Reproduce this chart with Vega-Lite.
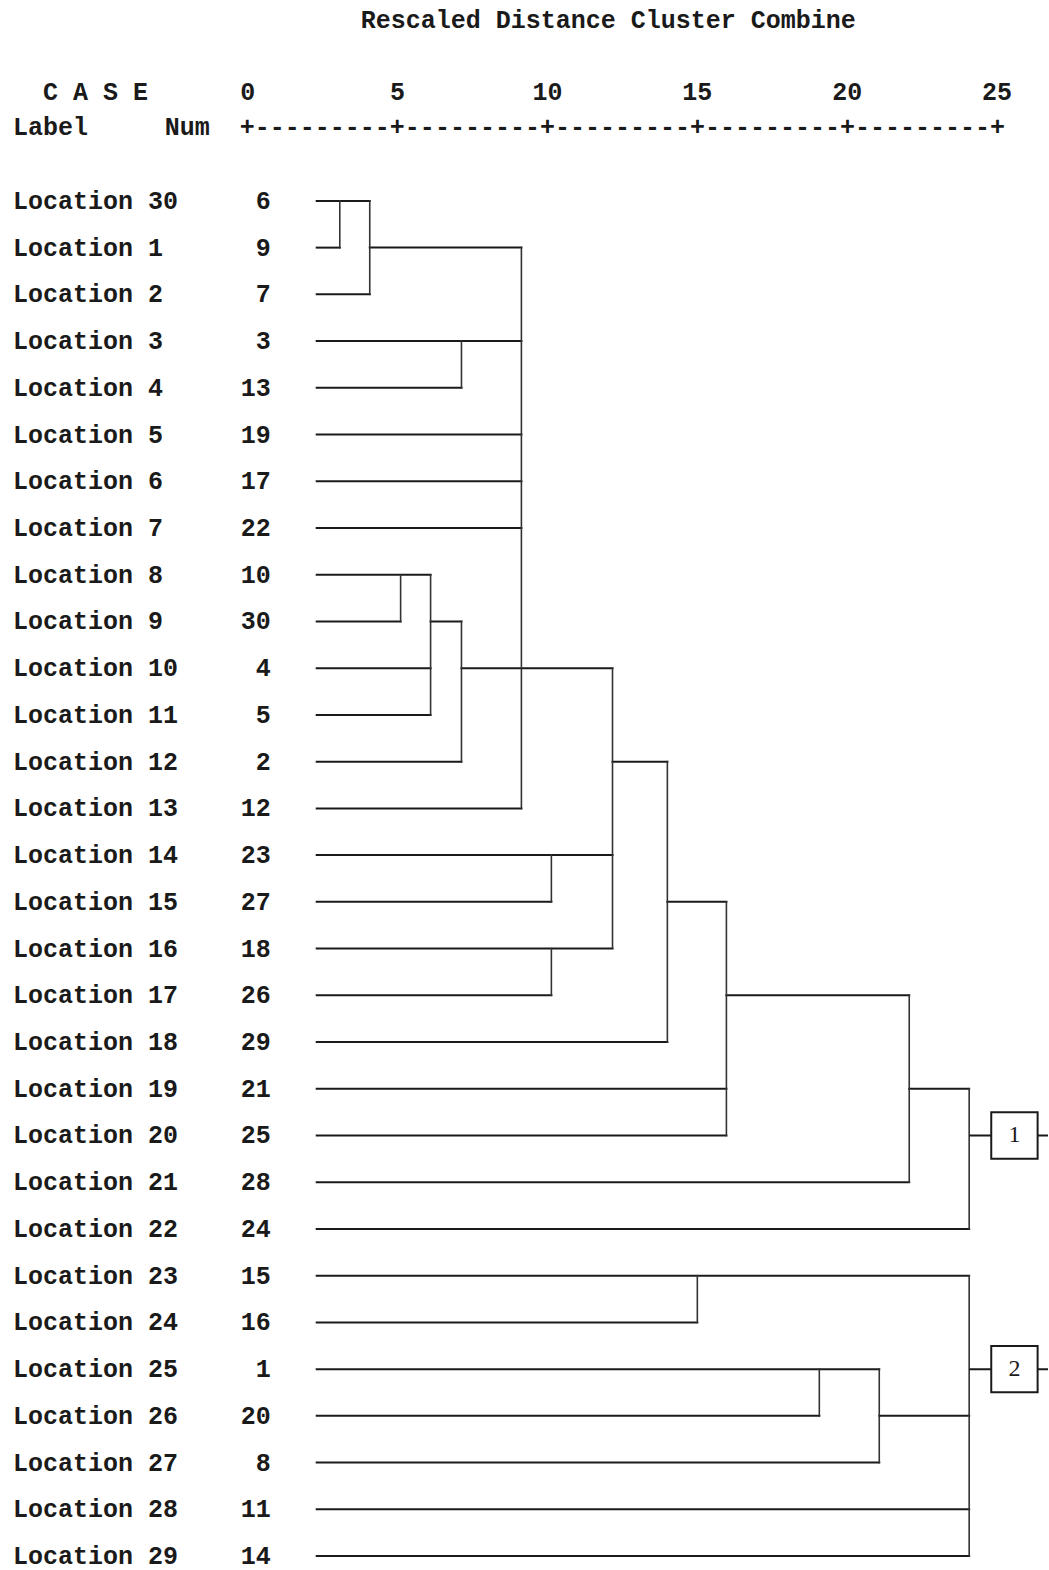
{
  "$schema": "https://vega.github.io/schema/vega-lite/v6.json",
  "autosize": {"type": "fit", "contains": "padding"},
  "width": 1049,
  "height": 1570,
  "padding": 0,
  "background": "white",
  "config": {"view": {"stroke": null}},
  "datasets": {
    "leaves": [
      {"label": "Location 30", "num": 6, "row": 1},
      {"label": "Location 1", "num": 9, "row": 2},
      {"label": "Location 2", "num": 7, "row": 3},
      {"label": "Location 3", "num": 3, "row": 4},
      {"label": "Location 4", "num": 13, "row": 5},
      {"label": "Location 5", "num": 19, "row": 6},
      {"label": "Location 6", "num": 17, "row": 7},
      {"label": "Location 7", "num": 22, "row": 8},
      {"label": "Location 8", "num": 10, "row": 9},
      {"label": "Location 9", "num": 30, "row": 10},
      {"label": "Location 10", "num": 4, "row": 11},
      {"label": "Location 11", "num": 5, "row": 12},
      {"label": "Location 12", "num": 2, "row": 13},
      {"label": "Location 13", "num": 12, "row": 14},
      {"label": "Location 14", "num": 23, "row": 15},
      {"label": "Location 15", "num": 27, "row": 16},
      {"label": "Location 16", "num": 18, "row": 17},
      {"label": "Location 17", "num": 26, "row": 18},
      {"label": "Location 18", "num": 29, "row": 19},
      {"label": "Location 19", "num": 21, "row": 20},
      {"label": "Location 20", "num": 25, "row": 21},
      {"label": "Location 21", "num": 28, "row": 22},
      {"label": "Location 22", "num": 24, "row": 23},
      {"label": "Location 23", "num": 15, "row": 24},
      {"label": "Location 24", "num": 16, "row": 25},
      {"label": "Location 25", "num": 1, "row": 26},
      {"label": "Location 26", "num": 20, "row": 27},
      {"label": "Location 27", "num": 8, "row": 28},
      {"label": "Location 28", "num": 11, "row": 29},
      {"label": "Location 29", "num": 14, "row": 30}
    ],
    "hseg": [
      {"row": 1, "from": 2.3, "to": 4.07},
      {"row": 2, "from": 2.3, "to": 3.07},
      {"row": 3, "from": 2.3, "to": 4.07},
      {"row": 4, "from": 2.3, "to": 9.13},
      {"row": 5, "from": 2.3, "to": 7.13},
      {"row": 6, "from": 2.3, "to": 9.13},
      {"row": 7, "from": 2.3, "to": 9.13},
      {"row": 8, "from": 2.3, "to": 9.13},
      {"row": 9, "from": 2.3, "to": 6.1},
      {"row": 10, "from": 2.3, "to": 5.1},
      {"row": 11, "from": 2.3, "to": 6.1},
      {"row": 12, "from": 2.3, "to": 6.1},
      {"row": 13, "from": 2.3, "to": 7.13},
      {"row": 14, "from": 2.3, "to": 9.13},
      {"row": 15, "from": 2.3, "to": 12.17},
      {"row": 16, "from": 2.3, "to": 10.13},
      {"row": 17, "from": 2.3, "to": 12.17},
      {"row": 18, "from": 2.3, "to": 10.13},
      {"row": 19, "from": 2.3, "to": 14.0},
      {"row": 20, "from": 2.3, "to": 15.97},
      {"row": 21, "from": 2.3, "to": 15.97},
      {"row": 22, "from": 2.3, "to": 22.07},
      {"row": 23, "from": 2.3, "to": 24.07},
      {"row": 24, "from": 2.3, "to": 24.07},
      {"row": 25, "from": 2.3, "to": 15.0},
      {"row": 26, "from": 2.3, "to": 21.07},
      {"row": 27, "from": 2.3, "to": 19.07},
      {"row": 28, "from": 2.3, "to": 21.07},
      {"row": 29, "from": 2.3, "to": 24.07},
      {"row": 30, "from": 2.3, "to": 24.07},
      {"row": 2, "from": 4.07, "to": 9.13},
      {"row": 10, "from": 6.1, "to": 7.13},
      {"row": 11, "from": 7.13, "to": 12.17},
      {"row": 13, "from": 12.17, "to": 14.0},
      {"row": 16, "from": 14.0, "to": 15.97},
      {"row": 18, "from": 15.97, "to": 22.07},
      {"row": 20, "from": 22.07, "to": 24.07},
      {"row": 27, "from": 21.07, "to": 24.07}
    ],
    "vseg": [
      {"at": 3.07, "r1": 1, "r2": 2},
      {"at": 4.07, "r1": 1, "r2": 3},
      {"at": 9.13, "r1": 2, "r2": 14},
      {"at": 7.13, "r1": 4, "r2": 5},
      {"at": 5.1, "r1": 9, "r2": 10},
      {"at": 6.1, "r1": 9, "r2": 12},
      {"at": 7.13, "r1": 10, "r2": 13},
      {"at": 10.13, "r1": 15, "r2": 16},
      {"at": 10.13, "r1": 17, "r2": 18},
      {"at": 12.17, "r1": 11, "r2": 17},
      {"at": 14.0, "r1": 13, "r2": 19},
      {"at": 15.97, "r1": 16, "r2": 21},
      {"at": 22.07, "r1": 18, "r2": 22},
      {"at": 24.07, "r1": 20, "r2": 23},
      {"at": 15.0, "r1": 24, "r2": 25},
      {"at": 19.07, "r1": 26, "r2": 27},
      {"at": 21.07, "r1": 26, "r2": 28},
      {"at": 24.07, "r1": 24, "r2": 30}
    ],
    "ticks": [{"t": 0}, {"t": 5}, {"t": 10}, {"t": 15}, {"t": 20}, {"t": 25}],
    "clusters": [{"cluster": "1", "row": 21}, {"cluster": "2", "row": 26}]
  },
  "layer": [
    {
      "data": {"name": "hseg"},
      "mark": {"type": "rule", "color": "#1a1a1a", "strokeWidth": 2, "strokeCap": "square"},
      "encoding": {
        "x": {"field": "from", "type": "quantitative", "scale": {"domain": [-8.2667, 26.7], "nice": false, "zero": false}, "axis": null},
        "x2": {"field": "to"},
        "y": {"field": "row", "type": "quantitative", "scale": {"domain": [-3.299, 30.277], "nice": false, "zero": false, "reverse": true}, "axis": null}
      }
    },
    {
      "data": {"name": "vseg"},
      "mark": {"type": "rule", "color": "#333333", "strokeWidth": 1.6, "strokeCap": "square"},
      "encoding": {
        "x": {"field": "at", "type": "quantitative", "scale": {"domain": [-8.2667, 26.7], "nice": false, "zero": false}, "axis": null},
        "y": {"field": "r1", "type": "quantitative", "scale": {"domain": [-3.299, 30.277], "nice": false, "zero": false, "reverse": true}, "axis": null},
        "y2": {"field": "r2"}
      }
    },
    {
      "data": {"name": "clusters"},
      "mark": {"type": "rule", "color": "#1a1a1a", "strokeWidth": 2},
      "encoding": {
        "x": {"datum": 24.07, "type": "quantitative", "scale": {"domain": [-8.2667, 26.7], "nice": false, "zero": false}, "axis": null},
        "x2": {"datum": 26.7},
        "y": {"field": "row", "type": "quantitative", "scale": {"domain": [-3.299, 30.277], "nice": false, "zero": false, "reverse": true}, "axis": null}
      }
    },
    {
      "data": {"name": "clusters"},
      "mark": {"type": "point", "shape": "square", "size": 2150, "filled": true, "fill": "white", "stroke": "#1a1a1a", "strokeWidth": 2, "opacity": 1},
      "encoding": {
        "x": {"datum": 25.58, "type": "quantitative", "scale": {"domain": [-8.2667, 26.7], "nice": false, "zero": false}, "axis": null},
        "y": {"field": "row", "type": "quantitative", "scale": {"domain": [-3.299, 30.277], "nice": false, "zero": false, "reverse": true}, "axis": null}
      }
    },
    {
      "data": {"name": "clusters"},
      "mark": {"type": "text", "font": "Liberation Serif", "fontSize": 24, "color": "#1a1a1a", "align": "center", "baseline": "middle"},
      "encoding": {
        "x": {"datum": 25.58, "type": "quantitative", "scale": {"domain": [-8.2667, 26.7], "nice": false, "zero": false}, "axis": null},
        "y": {"field": "row", "type": "quantitative", "scale": {"domain": [-3.299, 30.277], "nice": false, "zero": false, "reverse": true}, "axis": null},
        "text": {"field": "cluster"}
      }
    },
    {
      "data": {"name": "leaves"},
      "mark": {"type": "text", "font": "Liberation Mono", "fontWeight": "bold", "fontSize": 25, "color": "#1a1a1a", "align": "left", "baseline": "middle"},
      "encoding": {
        "x": {"datum": -7.833, "type": "quantitative", "scale": {"domain": [-8.2667, 26.7], "nice": false, "zero": false}, "axis": null},
        "y": {"field": "row", "type": "quantitative", "scale": {"domain": [-3.299, 30.277], "nice": false, "zero": false, "reverse": true}, "axis": null},
        "text": {"field": "label"}
      }
    },
    {
      "data": {"name": "leaves"},
      "mark": {"type": "text", "font": "Liberation Mono", "fontWeight": "bold", "fontSize": 25, "color": "#1a1a1a", "align": "right", "baseline": "middle"},
      "encoding": {
        "x": {"datum": 0.767, "type": "quantitative", "scale": {"domain": [-8.2667, 26.7], "nice": false, "zero": false}, "axis": null},
        "y": {"field": "row", "type": "quantitative", "scale": {"domain": [-3.299, 30.277], "nice": false, "zero": false, "reverse": true}, "axis": null},
        "text": {"field": "num"}
      }
    },
    {
      "data": {"name": "ticks"},
      "mark": {"type": "text", "font": "Liberation Mono", "fontWeight": "bold", "fontSize": 25, "color": "#1a1a1a", "align": "center", "baseline": "middle"},
      "encoding": {
        "x": {"field": "t", "type": "quantitative", "scale": {"domain": [-8.2667, 26.7], "nice": false, "zero": false}, "axis": null},
        "y": {"datum": -1.331, "type": "quantitative", "scale": {"domain": [-3.299, 30.277], "nice": false, "zero": false, "reverse": true}, "axis": null},
        "text": {"field": "t"}
      }
    },
    {
      "data": {"values": [{"txt": "Rescaled Distance Cluster Combine"}]},
      "mark": {"type": "text", "font": "Liberation Mono", "fontWeight": "bold", "fontSize": 25, "color": "#1a1a1a", "align": "center", "baseline": "middle"},
      "encoding": {
        "x": {"datum": 12.03, "type": "quantitative", "scale": {"domain": [-8.2667, 26.7], "nice": false, "zero": false}, "axis": null},
        "y": {"datum": -2.871, "type": "quantitative", "scale": {"domain": [-3.299, 30.277], "nice": false, "zero": false, "reverse": true}, "axis": null},
        "text": {"field": "txt"}
      }
    },
    {
      "data": {"values": [{"txt": "C A S E"}]},
      "mark": {"type": "text", "font": "Liberation Mono", "fontWeight": "bold", "fontSize": 25, "color": "#1a1a1a", "align": "left", "baseline": "middle"},
      "encoding": {
        "x": {"datum": -6.833, "type": "quantitative", "scale": {"domain": [-8.2667, 26.7], "nice": false, "zero": false}, "axis": null},
        "y": {"datum": -1.331, "type": "quantitative", "scale": {"domain": [-3.299, 30.277], "nice": false, "zero": false, "reverse": true}, "axis": null},
        "text": {"field": "txt"}
      }
    },
    {
      "data": {"values": [{"txt": "Label"}]},
      "mark": {"type": "text", "font": "Liberation Mono", "fontWeight": "bold", "fontSize": 25, "color": "#1a1a1a", "align": "left", "baseline": "middle"},
      "encoding": {
        "x": {"datum": -7.833, "type": "quantitative", "scale": {"domain": [-8.2667, 26.7], "nice": false, "zero": false}, "axis": null},
        "y": {"datum": -0.5826, "type": "quantitative", "scale": {"domain": [-3.299, 30.277], "nice": false, "zero": false, "reverse": true}, "axis": null},
        "text": {"field": "txt"}
      }
    },
    {
      "data": {"values": [{"txt": "Num"}]},
      "mark": {"type": "text", "font": "Liberation Mono", "fontWeight": "bold", "fontSize": 25, "color": "#1a1a1a", "align": "left", "baseline": "middle"},
      "encoding": {
        "x": {"datum": -2.767, "type": "quantitative", "scale": {"domain": [-8.2667, 26.7], "nice": false, "zero": false}, "axis": null},
        "y": {"datum": -0.5826, "type": "quantitative", "scale": {"domain": [-3.299, 30.277], "nice": false, "zero": false, "reverse": true}, "axis": null},
        "text": {"field": "txt"}
      }
    },
    {
      "data": {"values": [{"txt": "+---------+---------+---------+---------+---------+"}]},
      "mark": {"type": "text", "font": "Liberation Mono", "fontWeight": "bold", "fontSize": 25, "color": "#1a1a1a", "align": "center", "baseline": "middle"},
      "encoding": {
        "x": {"datum": 12.5, "type": "quantitative", "scale": {"domain": [-8.2667, 26.7], "nice": false, "zero": false}, "axis": null},
        "y": {"datum": -0.5826, "type": "quantitative", "scale": {"domain": [-3.299, 30.277], "nice": false, "zero": false, "reverse": true}, "axis": null},
        "text": {"field": "txt"}
      }
    }
  ]
}
